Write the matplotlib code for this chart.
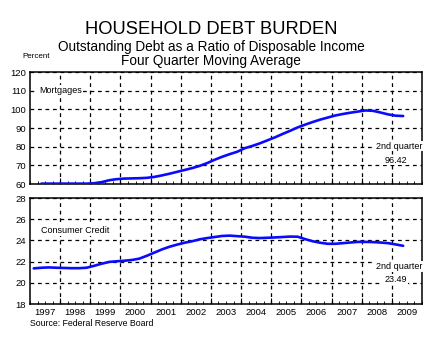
import matplotlib
matplotlib.use("Agg")
import matplotlib.pyplot as plt
import matplotlib.transforms as mtransforms
import numpy as np

plt.rcParams['font.family'] = ['Liberation Sans', 'DejaVu Sans']

# ---- data (quarterly, four-quarter moving average) ----
mort_start = (1997, 2)
mortgages = [60.2, 60.2, 60.2, 60.2, 60.2, 60.2, 60.2,
             60.4, 61.0, 62.0, 62.6,
             62.9, 63.0, 63.1, 63.3,
             63.8, 64.6, 65.5, 66.5,
             67.5, 68.5, 69.7, 71.2,
             73.0, 74.6, 76.0, 77.3,
             79.2, 80.4, 81.8, 83.4,
             85.0, 86.8, 88.5, 90.3,
             91.8, 93.2, 94.5, 95.6,
             96.7, 97.5, 98.2, 98.8,
             99.4, 99.2, 98.3, 97.3,
             96.6, 96.42]

cc_start = (1997, 1)
consumer_credit = [21.36, 21.42, 21.45, 21.42,
                   21.40, 21.38, 21.38, 21.42,
                   21.60, 21.80, 21.97, 22.03,
                   22.08, 22.15, 22.28, 22.55,
                   22.85, 23.15, 23.40, 23.60,
                   23.78, 23.92, 24.10, 24.22,
                   24.32, 24.42, 24.45, 24.40,
                   24.35, 24.25, 24.22, 24.25,
                   24.28, 24.32, 24.36, 24.35,
                   24.12, 23.92, 23.78, 23.68,
                   23.68, 23.74, 23.80, 23.86,
                   23.86, 23.84, 23.80, 23.74,
                   23.62, 23.49]

years = list(range(1997, 2010))
year_labels = [str(y) for y in years]

mort_last_label = ["2nd quarter", "96.42"]
cc_last_label = ["2nd quarter", "23.49"]


def qdates(start, n):
    y0, q0 = start
    return [y0 + (q0 - 1 + i + 0.5) / 4.0 for i in range(n)]


W, H = 445, 338
fig = plt.figure(figsize=(W / 100, H / 100), dpi=100)

ax1 = fig.add_axes([30 / W, 1 - 184 / H, 392 / W, 112 / H])
ax2 = fig.add_axes([30 / W, 1 - 304 / H, 392 / W, 106 / H])

blue = '#0a0aff'
tick_fs = 6.8


def style(ax, ylim, yticks):
    ax.set_xlim(1997, 2010)
    ax.set_ylim(*ylim)
    ax.set_yticks(yticks)
    ax.set_xticks(np.arange(1998, 2010))
    ax.set_xticks(np.arange(1997, 2010.01, 0.25), minor=True)
    ax.tick_params(axis='x', which='major', direction='in', length=4, width=0.8,
                   labelbottom=False, top=False)
    ax.tick_params(axis='x', which='minor', direction='in', length=2, width=0.6, top=False)
    ax.tick_params(axis='y', which='both', length=0, labelsize=tick_fs, pad=3)
    ax.grid(True, which='major', color='black', linestyle=(0, (3, 3)), linewidth=0.9)
    for s in ax.spines.values():
        s.set_linewidth(1.1)
    ax.set_axisbelow(True)


style(ax1, (60, 120), [60, 70, 80, 90, 100, 110, 120])
style(ax2, (18, 28), [18, 20, 22, 24, 26, 28])

ax1.plot(qdates(mort_start, len(mortgages)), mortgages, color=blue, lw=1.9,
         solid_capstyle='round', zorder=3)
ax2.plot(qdates(cc_start, len(consumer_credit)), consumer_credit, color=blue, lw=1.9,
         solid_capstyle='round', zorder=3)

bbox = dict(facecolor='white', edgecolor='none', pad=0.6)
ax1.text(1997.3, 110, "Mortgages", fontsize=6.5, va='center', ha='left', bbox=bbox, zorder=4)
ax2.text(1997.35, 24.95, "Consumer Credit", fontsize=6.5, va='center', ha='left', bbox=bbox, zorder=4)

ax1.text(2009.24, 80.35, mort_last_label[0], fontsize=6.5, ha='center', va='center', bbox=bbox, zorder=4)
ax1.text(2009.12, 72.85, mort_last_label[1], fontsize=6.5, ha='center', va='center', bbox=bbox, zorder=4)
ax2.text(2009.24, 21.52, cc_last_label[0], fontsize=6.5, ha='center', va='center', bbox=bbox, zorder=4)
ax2.text(2009.12, 20.33, cc_last_label[1], fontsize=6.5, ha='center', va='center', bbox=bbox, zorder=4)

trans = mtransforms.blended_transform_factory(ax2.transData, ax2.transAxes)
for y, lab in zip(years, year_labels):
    ax2.text(y + 0.5, -0.035, lab, transform=trans, ha='center', va='top', fontsize=tick_fs)

fig.text(211 / W, 1 - 29 / H, "HOUSEHOLD DEBT BURDEN", ha='center', va='center', fontsize=13.2)
fig.text(211 / W, 1 - 46.5 / H, "Outstanding Debt as a Ratio of Disposable Income",
         ha='center', va='center', fontsize=9.8)
fig.text(211 / W, 1 - 60.5 / H, "Four Quarter Moving Average", ha='center', va='center', fontsize=9.8)
fig.text(22 / W, 1 - 57 / H, "Percent", ha='left', va='center', fontsize=5.8)
fig.text(30 / W, 1 - 324 / H, "Source: Federal Reserve Board", ha='left', va='center', fontsize=6.3)

fig.savefig("out.png", dpi=100)
